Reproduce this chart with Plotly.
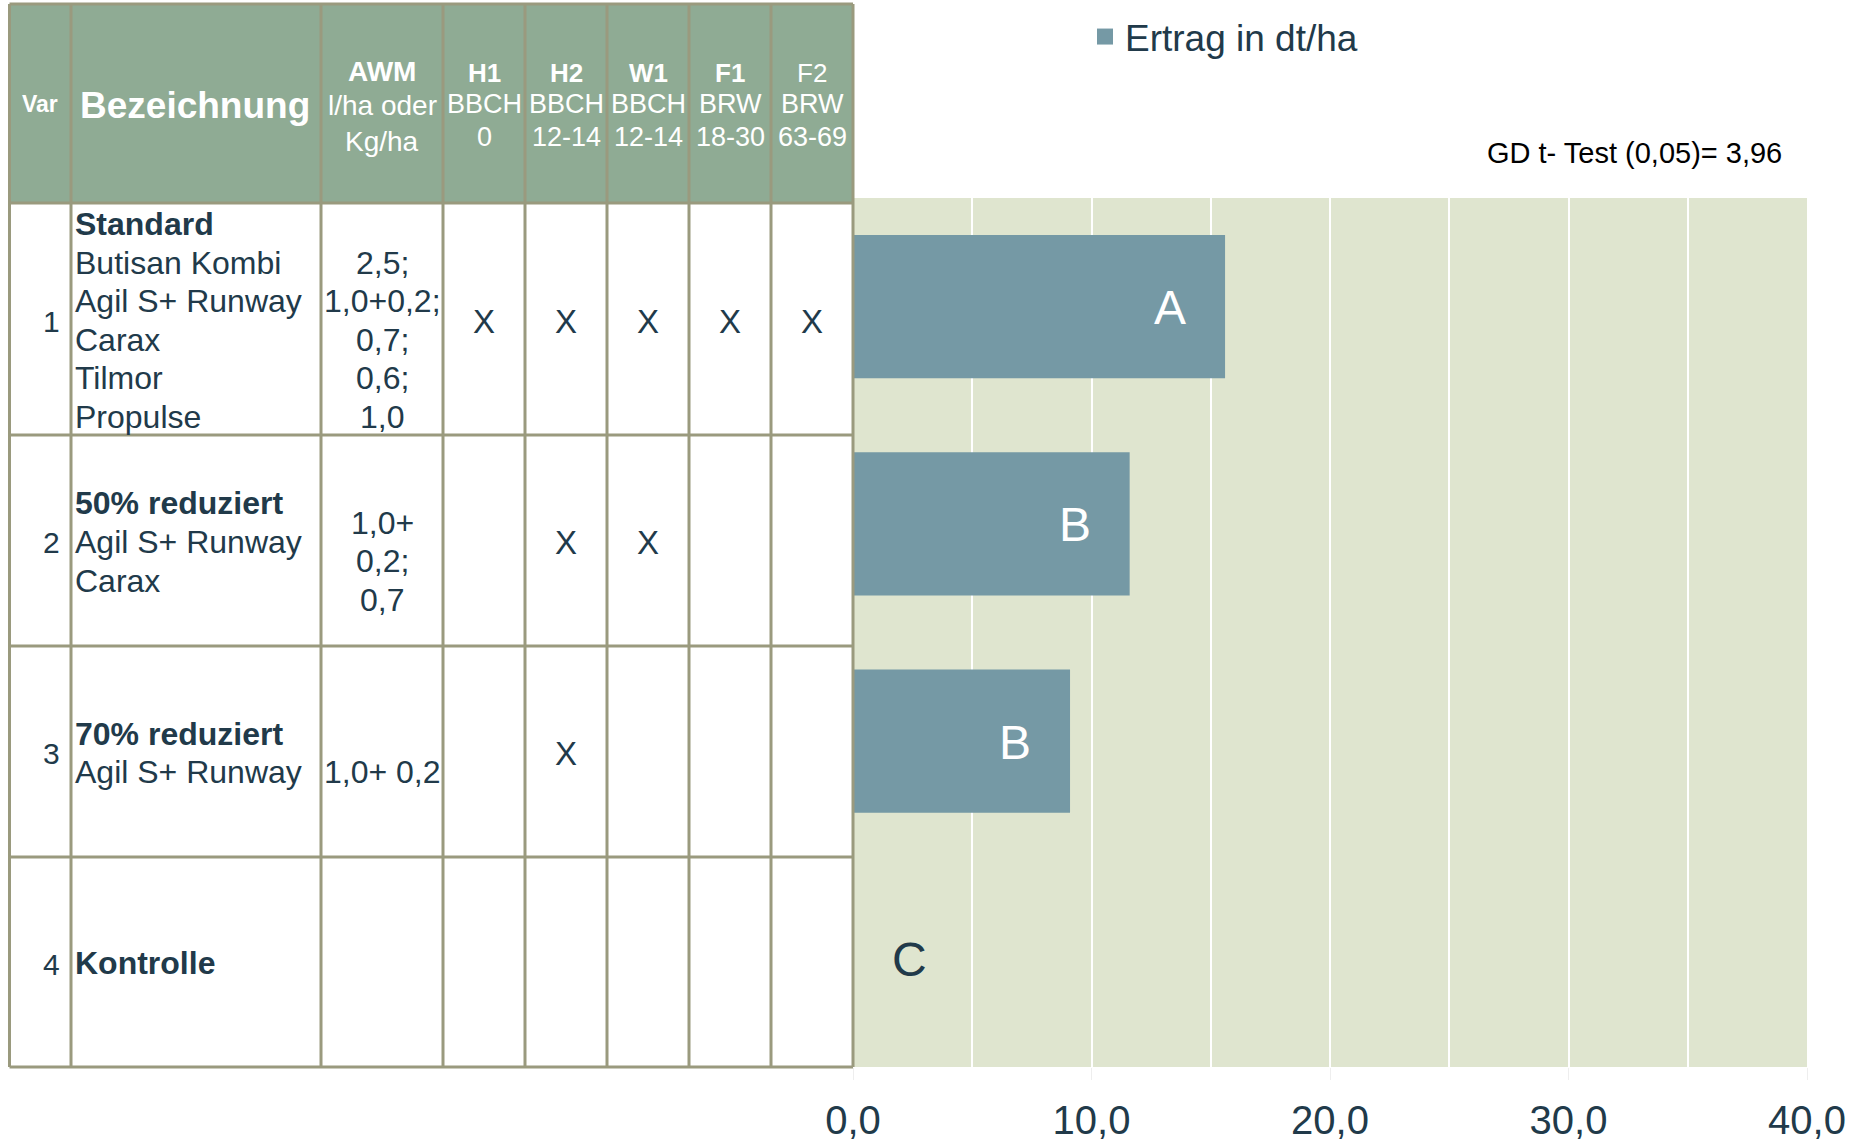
import plotly.graph_objects as go

# ---------------- data ----------------
var_ids = ["1", "2", "3", "4"]
headlines = ["Standard", "50% reduziert", "70% reduziert", "Kontrolle"]
products = [
    ["Butisan Kombi", "Agil S+ Runway", "Carax", "Tilmor", "Propulse"],
    ["Agil S+ Runway", "Carax"],
    ["Agil S+ Runway"],
    [],
]
awm_amounts = [
    ["2,5;", "1,0+0,2;", "0,7;", "0,6;", "1,0"],
    ["1,0+", "0,2;", "0,7"],
    ["1,0+ 0,2"],
    [],
]
treat_codes = ["H1", "H2", "W1", "F1", "F2"]
treat_code_bold = [True, True, True, True, False]
treat_scale = ["BBCH", "BBCH", "BBCH", "BRW", "BRW"]
treat_stage = ["0", "12-14", "12-14", "18-30", "63-69"]
applied = [
    [1, 1, 1, 1, 1],
    [0, 1, 1, 0, 0],
    [0, 1, 0, 0, 0],
    [0, 0, 0, 0, 0],
]
yield_dt_ha = [15.6, 11.6, 9.1, 0.0]
sig_letters = ["A", "B", "B", "C"]
series_name = "Ertrag in dt/ha"
gd_text = "GD t- Test (0,05)= 3,96"
awm_header = ["<b>AWM</b>", "l/ha oder", "Kg/ha"]

# ---------------- layout constants ----------------
W, H = 1863, 1141
FONT = "Arial, Liberation Sans, Helvetica, sans-serif"
DARK = "#213A4A"
HEAD_BG = "#8FAB94"
GRID_C = "#9A9A7E"
BAR_C = "#7599A5"
PLOT_BG = "#DFE5CF"

col_edges = [9.5, 71, 321, 443, 525, 607, 689, 771, 853]
row_edges = [4, 203, 435, 646, 857, 1067]
LINE = 38.5


def px(x):
    return x / W


def py(y):
    return 1 - y / H


shapes = []
annotations = []

# header background
shapes.append(dict(type="rect", xref="paper", yref="paper",
                   x0=px(col_edges[0]), x1=px(col_edges[-1]),
                   y0=py(row_edges[0]), y1=py(row_edges[1]),
                   fillcolor=HEAD_BG, line=dict(width=0), layer="below"))
# grid lines
for cx in col_edges:
    shapes.append(dict(type="line", xref="paper", yref="paper",
                       x0=px(cx), x1=px(cx), y0=py(row_edges[0]), y1=py(row_edges[-1]),
                       line=dict(color=GRID_C, width=3)))
for ry in row_edges:
    shapes.append(dict(type="line", xref="paper", yref="paper",
                       x0=px(col_edges[0]), x1=px(col_edges[-1]), y0=py(ry), y1=py(ry),
                       line=dict(color=GRID_C, width=3)))


def txt(x, y, s, size, color=DARK, anchor="center", bold=False):
    if bold:
        s = "<b>" + s + "</b>"
    annotations.append(dict(xref="paper", yref="paper", x=px(x), y=py(y),
                            text=s, showarrow=False, xanchor=anchor, yanchor="middle",
                            font=dict(family=FONT, size=size, color=color)))


# header texts
txt((col_edges[0] + col_edges[1]) / 2, 104.5, "Var", 23, "white", bold=True)
txt(78, 106, "Bezeichnung", 37, "white", anchor="left", bold=True)
awm_cx = (col_edges[2] + col_edges[3]) / 2
for s, yy in zip(awm_header, [71, 106, 141]):
    txt(awm_cx, yy, s, 28, "white")
for k in range(len(treat_codes)):
    cx = (col_edges[3 + k] + col_edges[4 + k]) / 2
    txt(cx, 72.5, treat_codes[k], 26, "white", bold=treat_code_bold[k])
    txt(cx, 104.5, treat_scale[k], 27, "white")
    txt(cx, 136.6, treat_stage[k], 27, "white")

# body rows
for r in range(len(var_ids)):
    top, bot = row_edges[r + 1], row_edges[r + 2]
    cy = (top + bot) / 2
    txt(51, cy + 2, var_ids[r], 30)
    lines = [headlines[r]] + products[r]
    n = len(lines)
    first = cy + 1.5 - (n - 1) / 2 * LINE
    for i, s in enumerate(lines):
        txt(73, first + i * LINE, s, 32, anchor="left", bold=(i == 0))
    if awm_amounts[r]:
        pc = first + (1 + (n - 1)) / 2 * LINE
        m = len(awm_amounts[r])
        for j, s in enumerate(awm_amounts[r]):
            txt(awm_cx, pc + (j - (m - 1) / 2) * LINE, s, 32)
    for k, flag in enumerate(applied[r]):
        if flag:
            cx = (col_edges[3 + k] + col_edges[4 + k]) / 2
            txt(cx, cy + 2, "X", 33)

# significance letters on bars (y given as category index)
for idx, (v, let) in enumerate(zip(yield_dt_ha, sig_letters)):
    inside = v > 0
    annotations.append(dict(xref="x", yref="y", x=v, y=idx, text=let, showarrow=False,
                            xanchor="center", yanchor="middle",
                            xshift=-55 if inside else 56, yshift=-1,
                            font=dict(family=FONT, size=48, color="white" if inside else DARK)))

# GD note
annotations.append(dict(xref="paper", yref="paper", x=px(1784), y=py(153), text=gd_text,
                        showarrow=False, xanchor="right", yanchor="middle",
                        font=dict(family=FONT, size=29, color="black")))

fig = go.Figure()
fig.add_trace(go.Bar(x=yield_dt_ha, y=var_ids, orientation="h", name=series_name,
                     marker=dict(color=BAR_C, line=dict(width=0)), width=0.66,
                     showlegend=False))
# legend entry with a larger square swatch
fig.add_trace(go.Scatter(x=[None], y=[None], mode="markers", name=series_name,
                         marker=dict(symbol="square", size=16, color=BAR_C),
                         showlegend=True, hoverinfo="skip"))

fig.update_layout(
    width=W, height=H,
    margin=dict(l=0, r=0, t=0, b=0, autoexpand=False),
    paper_bgcolor="white",
    plot_bgcolor=PLOT_BG,
    separators=",.",
    font=dict(family=FONT, color=DARK),
    showlegend=True,
    legend=dict(x=px(1085), y=py(6), xanchor="left", yanchor="top",
                bgcolor="rgba(0,0,0,0)", font=dict(family=FONT, size=37, color=DARK),
                itemsizing="trace"),
    xaxis=dict(domain=[px(853), px(1807)], range=[0, 40], dtick=10, tick0=0,
               tickformat=".1f", showgrid=True, gridcolor="white", gridwidth=2,
               minor=dict(dtick=5, showgrid=True, gridcolor="white", gridwidth=2),
               zeroline=False, showline=False, ticks="outside", ticklen=12,
               tickcolor="#EEEEEE", ticklabelstandoff=6, automargin=False,
               tickfont=dict(family=FONT, size=40, color=DARK), fixedrange=True),
    yaxis=dict(domain=[py(1067), py(198)], range=[3.5, -0.5], type="category",
               showticklabels=False, showgrid=False, zeroline=False, showline=False,
               ticks="", fixedrange=True, automargin=False),
    shapes=shapes,
    annotations=annotations,
)

fig.write_html("out.html")
